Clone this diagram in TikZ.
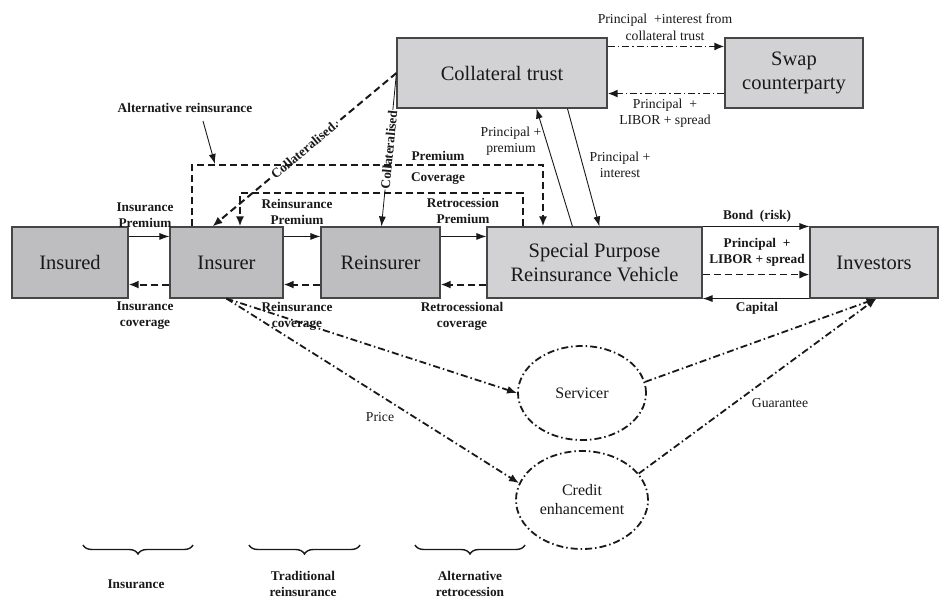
\documentclass[tikz,border=0pt]{standalone}
\usepackage{fontspec}
\setmainfont{Liberation Serif}
\usetikzlibrary{arrows.meta,shapes.geometric,decorations.pathreplacing}
\definecolor{boxdark}{RGB}{190,190,192}
\definecolor{boxlight}{RGB}{210,210,212}
\definecolor{edgec}{RGB}{70,70,70}
\definecolor{ink}{RGB}{25,25,25}
\begin{document}
\begin{tikzpicture}[x=1pt,y=-1pt,
  box/.style={draw=edgec,line width=1.1pt,rectangle,minimum height=71pt,inner sep=0pt,align=center,text=ink,font=\fontsize{20.5}{23.5}\selectfont},
  oval/.style={ellipse,draw=ink,line width=1.8pt,dash pattern=on 7pt off 3pt on 1.5pt off 3pt,inner sep=0pt,align=center,text=ink,font=\fontsize{16}{19}\selectfont},
  solidarr/.style={draw=ink,line width=0.9pt,-{Latex[length=10pt,width=7pt]}},
  dasharr/.style={draw=ink,line width=2pt,dash pattern=on 7pt off 4pt,-{Latex[length=10pt,width=8pt]}},
  ddarr/.style={draw=ink,line width=1.8pt,dash pattern=on 7pt off 3pt on 1.5pt off 3pt,-{Latex[length=10pt,width=8pt]}},
  blab/.style={font=\bfseries\fontsize{13.3}{16}\selectfont,align=center,text=ink,inner sep=1pt},
  nlab/.style={font=\fontsize{13.7}{16.5}\selectfont,align=center,text=ink,inner sep=1pt},
  bracestyle/.style={draw=ink,line width=1.4pt,decorate,decoration={brace,mirror,amplitude=9pt}}
]
\useasboundingbox[fill=white] (0,0) rectangle (939,598);

% boxes
\node[box,fill=boxdark,minimum width=116pt] (insured) at (70,262.5) {Insured};
\node[box,fill=boxdark,minimum width=113pt] (insurer) at (226.5,262.5) {Insurer};
\node[box,fill=boxdark,minimum width=119pt] (reinsurer) at (380.5,262.5) {Reinsurer};
\node[box,fill=boxlight,minimum width=215pt] (sprv) at (594.5,262.5) {Special Purpose\\Reinsurance Vehicle};
\node[box,fill=boxlight,minimum width=128pt] (investors) at (874,262.5) {Investors};
\node[box,fill=boxlight,minimum width=210pt,minimum height=70pt] (collateral) at (502,73) {Collateral trust};
\node[box,fill=boxlight,minimum width=138pt,minimum height=70pt] (swap) at (794,73) {Swap\\counterparty};
\node[oval,minimum width=128pt,minimum height=94pt] (servicer) at (582,393) {Servicer};
\node[oval,minimum width=132pt,minimum height=98pt] (credit) at (582,500) {Credit\\enhancement};

% collateralised links
\draw[dasharr] (collateral.west) -- node[midway,sloped,fill=white,blab,inner sep=0.5pt]{Collateralised.} ([xshift=43pt]insurer.north west);
\draw[solidarr,line width=0.8pt] (collateral.west) -- node[midway,sloped,fill=white,blab,inner sep=0.5pt]{Collateralised} ([xshift=61pt]reinsurer.north west);

% alternative reinsurance loops
\coordinate (altR) at (543,165);
\coordinate (covR) at (523,193);
\coordinate (covL) at (240,193);
\draw[dasharr] ([xshift=23pt]insurer.north west) -- ([xshift=23pt]insurer.north west |- altR) -- (altR) -- (altR |- sprv.north);
\draw[dasharr] (covR |- sprv.north) -- (covR) -- (covL) -- (covL |- insurer.north);
\node[blab] (premlab) at (438,156) {Premium};
\node[blab] (covlab) at (438,179) {Coverage};
\node[blab] (altlab) at (185,108) {Alternative reinsurance};
\coordinate (altP) at (215,164);
\draw[solidarr] (203,121) -- (altP);

% main chain
\draw[solidarr] ([yshift=-10pt]insured.north east) -- ([yshift=-10pt]insurer.north west);
\draw[dasharr] ([yshift=14pt]insurer.south west) -- ([yshift=14pt]insured.south east);
\draw[solidarr] ([yshift=-10pt]insurer.north east) -- ([yshift=-10pt]reinsurer.north west);
\draw[dasharr] ([yshift=14pt]reinsurer.south west) -- ([yshift=14pt]insurer.south east);
\draw[solidarr] ([yshift=-10pt]reinsurer.north east) -- ([yshift=-10pt]sprv.north west);
\draw[dasharr] ([yshift=14pt]sprv.south west) -- ([yshift=14pt]reinsurer.south east);
\node[blab] (l1) at (145,215) {Insurance\\Premium};
\node[blab] (l2) at (145,316) {Insurance\\coverage};
\node[blab] (l3) at (297,212) {Reinsurance\\Premium};
\node[blab] (l4) at (297,316) {Reinsurance\\coverage};
\node[blab] (l5) at (463,211) {Retrocession\\Premium};
\node[blab] (l6) at (462,316) {Retrocessional\\coverage};

% SPRV - investors
\draw[solidarr] (sprv.north east) -- (investors.north west);
\draw[dasharr,line width=1.7pt] ([yshift=24pt]sprv.south east) -- ([yshift=24pt]investors.south west);
\draw[solidarr] (investors.south west) -- (sprv.south east);
\node[blab] (l7) at (757,216) {Bond\ \ (risk)};
\node[blab] (l8) at (757,252) {Principal \ +\\LIBOR + spread};
\node[blab] (l9) at (757,308) {Capital};

% collateral trust - swap
\draw[ddarr] ([yshift=-9pt]collateral.north east) -- ([yshift=-9pt]swap.north west);
\draw[ddarr] ([yshift=15pt]swap.south west) -- ([yshift=15pt]collateral.south east);
\node[nlab] (l10) at (665,27) {Principal \ +interest from\\collateral trust};
\node[nlab] (l11) at (665,113) {Principal \ +\\LIBOR + spread};

% SPRV - collateral trust
\draw[solidarr] ([xshift=86pt]sprv.north west) -- ([xshift=140pt]collateral.south west);
\draw[solidarr] ([xshift=171pt]collateral.south west) -- ([xshift=113pt]sprv.north west);
\node[nlab] (l12) at (511,141) {Principal +\\premium};
\node[nlab] (l13) at (620,165) {Principal +\\interest};

% servicer / credit enhancement
\draw[ddarr] ([xshift=57pt]insurer.south west) -- (servicer.west);
\draw[ddarr] ([xshift=57pt]insurer.south west) -- (credit.165);
\draw[ddarr] (servicer.10) -- ([xshift=67pt]investors.south west);
\draw[ddarr] (credit.25) -- ([xshift=67pt]investors.south west);
\node[nlab] (l14) at (380,417) {Price};
\node[nlab] (l15) at (780,403) {Guarantee};

% braces
\draw[bracestyle] (83,545) -- (193,545);
\draw[bracestyle] (249,545) -- (360,545);
\draw[bracestyle] (415,545) -- (525,545);
\node[blab] (b1) at (136,584) {Insurance};
\node[blab] (b2) at (303,584) {Traditional\\reinsurance};
\node[blab] (b3) at (470,584) {Alternative\\retrocession};
\end{tikzpicture}
\end{document}
